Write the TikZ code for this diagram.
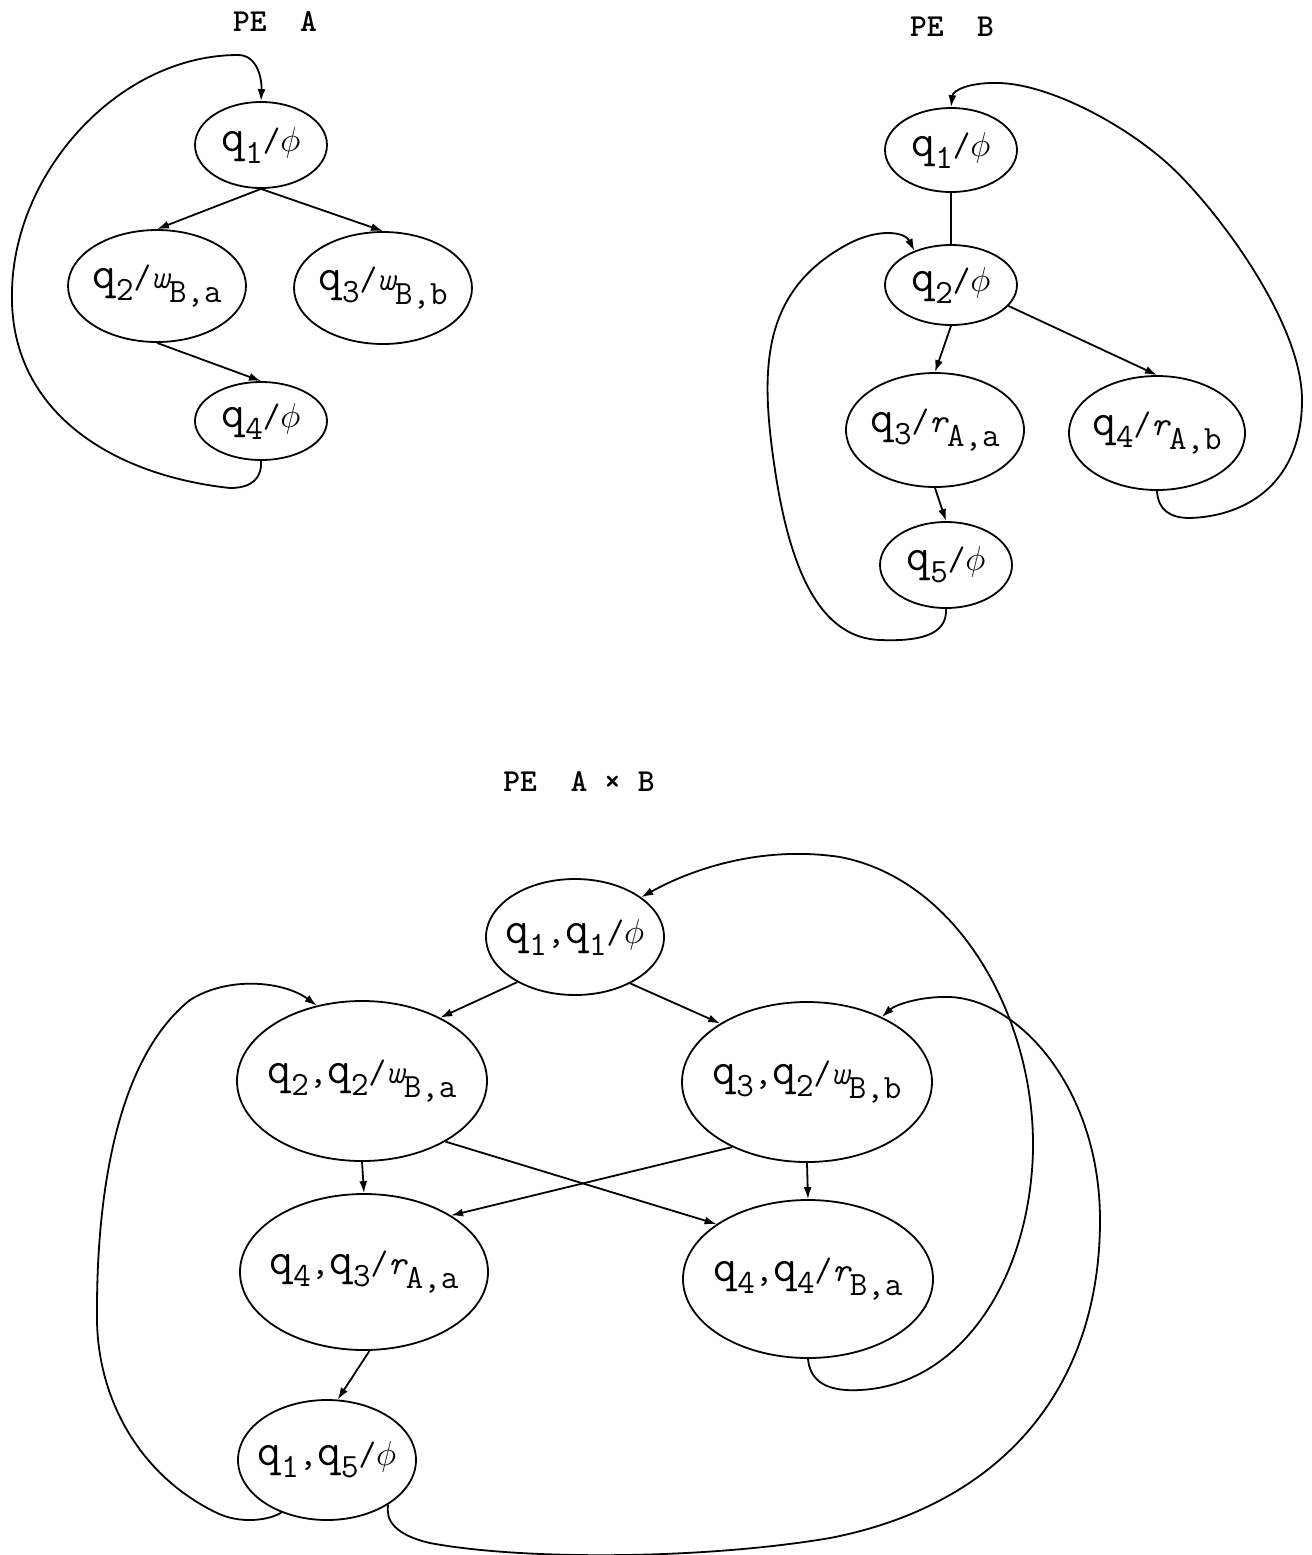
\documentclass[tikz,border=0pt]{standalone}
\usepackage{fontspec}
\usetikzlibrary{shapes.geometric,arrows.meta}
\newcommand\mainsz{\ttfamily\fontsize{23}{26}\selectfont}
\newcommand\subsz{\fontsize{17}{17}\selectfont}
\newcommand\qs[1]{q\raisebox{-6pt}{\subsz #1}}
\newcommand\sls{{\fontsize{17}{17}\selectfont/}}
\newcommand\ph{{\fontsize{16}{16}\selectfont$\phi$}}
\newcommand\cma{{\fontsize{18}{18}\selectfont,}}
\newcommand\act[2]{{\fontsize{17}{17}\selectfont\itshape #1}\raisebox{-7pt}{\subsz #2}}
\tikzset{
  st/.style={ellipse, draw, line width=0.9pt, inner sep=0pt, font=\mainsz},
  arr/.style={line width=0.9pt, -{Latex[length=6pt,width=4pt]}},
  ln/.style={line width=0.9pt},
  ttl/.style={font=\ttfamily\bfseries\fontsize{16}{18}\selectfont, inner sep=0pt}
}
\begin{document}
\begin{tikzpicture}[x=0.5pt,y=-0.5pt]
\useasboundingbox (0,0) rectangle (1312,1555);
% titles
\node[ttl] (tA) at (275,22) {PE~~A};
\node[ttl] (tB) at (952,27) {PE~~B};
\node[ttl] (tC) at (579,782) {PE~~A~×~B};
% PE A
\node[st, minimum width=66pt, minimum height=43pt] (A1) at (261,145) {\makebox[0pt]{\qs{1}\sls\ph}};
\node[st, minimum width=89pt, minimum height=56pt] (A2) at (157,286) {\makebox[0pt]{\qs{2}\sls\act{w}{B,a}}};
\node[st, minimum width=89pt, minimum height=56pt] (A3) at (383,288) {\makebox[0pt]{\qs{3}\sls\act{w}{B,b}}};
\node[st, minimum width=66pt, minimum height=39pt] (A4) at (261,421) {\makebox[0pt]{\qs{4}\sls\ph}};
\draw[arr] (A1.south) -- (A2.north);
\draw[arr] (A1.south) -- (A3.north);
\draw[arr] (A2.south) -- (A4.north);
\draw[arr] (A4.south) .. controls (262,478) and (252,488) .. (230,488)
  .. controls (110,475) and (8,410) .. (12,290)
  .. controls (15,170) and (120,55) .. (238,55)
  .. controls (258,55) and (262,80) .. (A1.north);
% PE B
\node[st, minimum width=66pt, minimum height=42pt] (B1) at (951,150) {\makebox[0pt]{\qs{1}\sls\ph}};
\node[st, minimum width=66pt, minimum height=40pt] (B2) at (951,285) {\makebox[0pt]{\qs{2}\sls\ph}};
\node[st, minimum width=89pt, minimum height=57pt] (B3) at (935,430) {\makebox[0pt]{\qs{3}\sls\act{r}{A,a}}};
\node[st, minimum width=88pt, minimum height=57pt] (B4) at (1157,433) {\makebox[0pt]{\qs{4}\sls\act{r}{A,b}}};
\node[st, minimum width=66pt, minimum height=43pt] (B5) at (946,565) {\makebox[0pt]{\qs{5}\sls\ph}};
\draw[ln] (B1.south) -- (B2.north);
\draw[arr] (B2.south) -- (B3.north);
\draw[arr] (B2.-20) -- (B4.north);
\draw[arr] (B3.south) -- (B5.north);
\draw[arr] (B5.south) .. controls (947,630) and (930,642) .. (880,640)
  .. controls (820,638) and (790,570) .. (775,470)
  .. controls (760,370) and (760,290) .. (850,243)
  .. controls (880,228) and (905,232) .. (B2.137);
\draw[arr] (B4.south) .. controls (1158,510) and (1170,518) .. (1190,518)
  .. controls (1250,516) and (1302,480) .. (1302,400)
  .. controls (1302,320) and (1212,203) .. (1167,163)
  .. controls (1122,123) and (1050,85) .. (1000,83)
  .. controls (970,82) and (953,90) .. (B1.north);
% PE A x B
\node[st, minimum width=89pt, minimum height=58pt] (C1) at (575,937) {\makebox[0pt]{\qs{1}\cma\qs{1}\sls\ph}};
\node[st, minimum width=125pt, minimum height=80pt] (C2) at (362,1081) {\makebox[0pt]{\qs{2}\cma\qs{2}\sls\act{w}{B,a}}};
\node[st, minimum width=125pt, minimum height=80pt] (C3) at (807,1082) {\makebox[0pt]{\qs{3}\cma\qs{2}\sls\act{w}{B,b}}};
\node[st, minimum width=124pt, minimum height=78pt] (C4) at (364,1272) {\makebox[0pt]{\qs{4}\cma\qs{3}\sls\act{r}{A,a}}};
\node[st, minimum width=125pt, minimum height=79pt] (C5) at (808,1279) {\makebox[0pt]{\qs{4}\cma\qs{4}\sls\act{r}{B,a}}};
\node[st, minimum width=89pt, minimum height=60pt] (C6) at (327,1460) {\makebox[0pt]{\qs{1}\cma\qs{5}\sls\ph}};
\draw[arr] (C1.-142) -- (C2.39);
\draw[arr] (C1.-40) -- (C3.146);
\draw[arr] (C2.south) -- (C4.north);
\draw[arr] (C3.south) -- (C5.north);
\draw[arr] (C2.-36) -- (C5.149);
\draw[arr] (C3.-139) -- (C4.33);
\draw[arr] (C4.-86) -- (C6.80);
\draw[arr] (C5.south) .. controls (810,1380) and (825,1392) .. (860,1390)
  .. controls (960,1385) and (1030,1280) .. (1033,1150)
  .. controls (1035,1020) and (960,880) .. (840,857)
  .. controls (760,845) and (690,870) .. (C1.31);
\draw[arr] (C6.-131) .. controls (270,1520) and (240,1525) .. (215,1512)
  .. controls (140,1475) and (98,1400) .. (97,1320)
  .. controls (96,1200) and (115,1060) .. (190,1000)
  .. controls (230,975) and (285,982) .. (C2.121);
\draw[arr] (C6.-36) .. controls (385,1520) and (395,1535) .. (430,1543)
  .. controls (520,1560) and (700,1560) .. (830,1538)
  .. controls (1000,1505) and (1100,1390) .. (1100,1220)
  .. controls (1100,1090) and (1020,1000) .. (950,997)
  .. controls (920,996) and (895,1005) .. (C3.41);
\end{tikzpicture}
\end{document}
